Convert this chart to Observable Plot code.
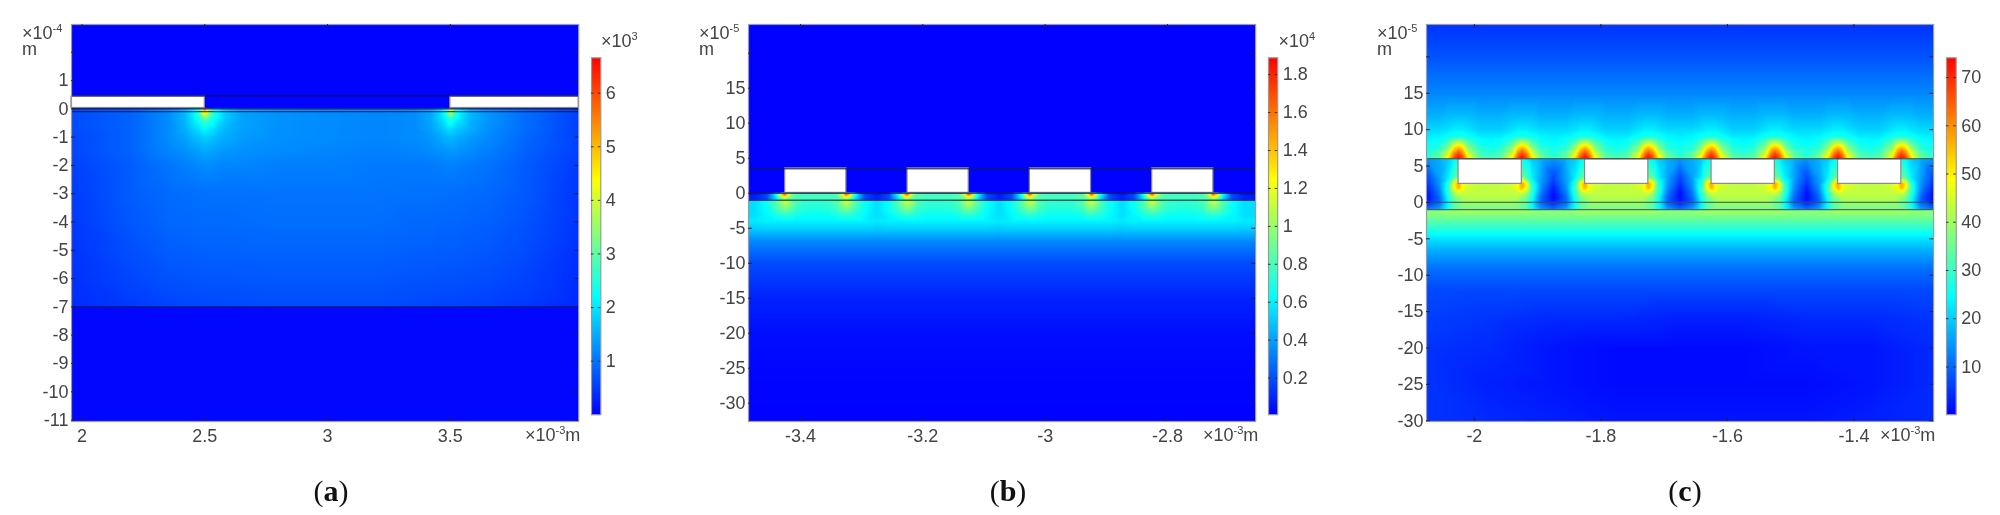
<!DOCTYPE html>
<html><head><meta charset="utf-8">
<script src="https://cdn.jsdelivr.net/npm/d3@7"></script>
<script src="https://cdn.jsdelivr.net/npm/@observablehq/plot@0.6"></script>
<style>
html,body{margin:0;padding:0;background:#fff}
#fig{position:relative;width:2000px;height:515px;overflow:hidden;filter:blur(.45px);color:#444;font-family:"Liberation Sans Narrow","Liberation Sans",sans-serif;font-size:18px}
#fig svg{position:absolute;top:0;overflow:visible}
.lab{position:absolute;white-space:nowrap;line-height:18px;transform:translateY(-50%)}
.lab sup{font-size:11px;line-height:0;vertical-align:7px}
.cap{position:absolute;top:471px;font:30px/40px "Liberation Serif",serif;color:#111;transform:translateX(-50%)}
.cap b{font-weight:700}
</style></head><body><div id="fig"></div>
<script>
// shared rainbow scale (position along the bar → colour)
const rampStops = [0, 0.33, 0.5, 0.66, 1];
const rampColors = ["#0000ff", "#00ffff", "#80ff80", "#ffff00", "#ff0000"];

// ---------- panel (a): norm ×10^3 ----------
const aXDomain = [1.957, 4.023], aYDomain = [-11.05, 2.98], aBarDomain = [0, 6.66];
const aXTicks = [2, 2.5, 3, 3.5], aYLabels = [1, 0, -1, -2, -3, -4, -5, -6, -7, -8, -9, -10, -11], aYMarks = [2, ...aYLabels];
const aBarTicks = [1, 2, 3, 4, 5, 6];
const aGridX = [1.957, 2.2, 2.35, 2.42, 2.46, 2.48, 2.5, 2.52, 2.54, 2.58, 2.65, 2.8, 3, 3.2, 3.35, 3.42, 3.46, 3.48, 3.5, 3.52, 3.54, 3.58, 3.65, 3.8, 4.023];
const aGridY = [2.98, 0.02, 0.01, -0.12, -0.25, -0.4, -0.7, -1, -1.5, -2, -3, -4, -5, -6, -6.97, -7.03, -11.05];
const aGrid = [
  [.03,.03,.03,.03,.03,.03,.03,.03,.03,.03,.03,.03,.03,.03,.03,.03,.03,.03,.03,.03,.03,.03,.03,.03,.03],
  [.03,.03,.03,.03,.03,.03,.03,.03,.03,.03,.03,.03,.03,.03,.03,.03,.03,.03,.03,.03,.03,.03,.03,.03,.03],
  [.65,.85,1.2,1.6,2.2,3.0,5.6,3.4,2.4,1.8,1.4,1.25,1.2,1.15,1.2,1.45,1.9,2.6,4.4,2.8,2.1,1.6,1.3,.95,.55],
  [.65,.85,1.2,1.6,2.2,2.9,4.9,3.2,2.4,1.8,1.4,1.25,1.2,1.15,1.2,1.45,1.9,2.4,3.8,2.6,2.1,1.6,1.3,.95,.55],
  [.65,.85,1.2,1.6,2.2,2.7,3.8,2.9,2.35,1.8,1.4,1.25,1.2,1.15,1.2,1.45,1.9,2.3,3.1,2.4,2.05,1.6,1.3,.95,.55],
  [.65,.85,1.2,1.6,2.1,2.4,2.9,2.5,2.2,1.75,1.4,1.25,1.2,1.15,1.2,1.45,1.85,2.1,2.5,2.15,1.95,1.55,1.3,.95,.55],
  [.65,.85,1.2,1.5,1.85,2.0,2.2,2.05,1.9,1.6,1.4,1.25,1.2,1.15,1.2,1.4,1.65,1.8,1.95,1.8,1.7,1.5,1.25,.95,.55],
  [.6,.85,1.2,1.4,1.6,1.7,1.8,1.72,1.65,1.5,1.35,1.25,1.2,1.15,1.2,1.3,1.45,1.55,1.6,1.55,1.45,1.35,1.2,.9,.55],
  [.6,.85,1.15,1.25,1.35,1.4,1.45,1.42,1.4,1.3,1.25,1.2,1.15,1.1,1.15,1.2,1.25,1.3,1.3,1.3,1.25,1.2,1.1,.85,.55],
  [.55,.8,1.0,1.1,1.15,1.18,1.2,1.2,1.18,1.15,1.15,1.1,1.1,1.05,1.05,1.05,1.08,1.1,1.1,1.1,1.08,1.05,1.0,.8,.5],
  [.5,.8,.92,.95,.97,.97,.98,.98,.98,.98,.98,1,1,1,.98,.98,.97,.97,.95,.95,.95,.93,.9,.78,.45],
  [.48,.75,.88,.9,.91,.92,.92,.92,.92,.92,.93,.95,.95,.95,.9,.9,.88,.88,.88,.88,.87,.85,.83,.72,.45],
  [.45,.68,.8,.82,.83,.83,.84,.84,.84,.84,.85,.86,.86,.86,.82,.82,.8,.8,.8,.8,.79,.78,.75,.66,.42],
  [.42,.6,.7,.72,.73,.73,.74,.74,.74,.74,.75,.76,.76,.76,.72,.72,.7,.7,.7,.7,.69,.68,.66,.58,.38],
  [.38,.5,.58,.6,.61,.61,.62,.62,.62,.62,.63,.65,.65,.65,.62,.6,.58,.58,.58,.58,.57,.56,.54,.48,.35],
  [.05,.05,.05,.05,.05,.05,.05,.05,.05,.05,.05,.05,.05,.05,.05,.05,.05,.05,.05,.05,.05,.05,.05,.05,.05],
  [.05,.05,.05,.05,.05,.05,.05,.05,.05,.05,.05,.05,.05,.05,.05,.05,.05,.05,.05,.05,.05,.05,.05,.05,.05]
];
const aBlockX1 = [1.957, 3.5], aBlockX2 = [2.5, 4.023], aBlockY1 = [0.03, 0.03], aBlockY2 = [0.43, 0.43];
const aLines = [0.46, 0, -0.1, -7];

// ---------- panel (b): norm ×10^4 ----------
const bXDomain = [-3.485, -2.656], bYDomain = [-32.6, 24.1], bBarDomain = [0.007, 1.889];
const bXTicks = [-3.4, -3.2, -3, -2.8], bYLabels = [15, 10, 5, 0, -5, -10, -15, -20, -25, -30], bYMarks = [20, ...bYLabels];
const bBarTicks = [0.2, 0.4, 0.6, 0.8, 1, 1.2, 1.4, 1.6, 1.8];
const bCenters = [-3.375, -3.175, -2.975, -2.775];
const bCellU = [0, .02, .035, .044, .05, .056, .065, .08, .1];
const bCellY = [24.1, 0.06, 0, -0.5, -0.95, -1.02, -2, -3, -4, -5, -7, -10, -15, -20, -25, -32.6];
const bCell = [
  [.01,.01,.01,.01,.01,.01,.01,.01,.01],
  [.01,.01,.01,.01,.01,.01,.01,.01,.01],
  [.8,.8,.85,1.3,1.85,1.5,.7,.15,.03],
  [.8,.8,.85,1.0,1.3,1.1,.6,.2,.08],
  [.78,.78,.8,.85,.9,.8,.5,.15,.06],
  [.75,.76,.85,1.05,1.15,1.05,.85,.65,.55],
  [.72,.73,.8,.92,.98,.92,.8,.65,.55],
  [.66,.66,.7,.74,.76,.74,.7,.62,.55],
  [.6,.6,.6,.6,.6,.6,.6,.6,.58],
  [.52,.52,.52,.52,.52,.52,.52,.52,.51],
  [.33,.33,.33,.33,.33,.33,.33,.33,.33],
  [.19,.19,.19,.19,.19,.19,.19,.19,.19],
  [.09,.09,.09,.09,.09,.09,.09,.09,.09],
  [.04,.04,.04,.04,.04,.04,.04,.04,.04],
  [.02,.02,.02,.02,.02,.02,.02,.02,.02],
  [.01,.01,.01,.01,.01,.01,.01,.01,.01]
];
const bStripY1 = [0.05], bStripY2 = [3.55];
const bLines = [3.5, 0, -1];

// ---------- panel (c) ----------
const cXDomain = [-2.0757, -1.274], cYDomain = [-30.1, 24.45], cBarDomain = [0.1, 74.1];
const cXTicks = [-2, -1.8, -1.6, -1.4], cYLabels = [15, 10, 5, 0, -5, -10, -15, -20, -25, -30], cYMarks = [20, ...cYLabels];
const cBarTicks = [10, 20, 30, 40, 50, 60, 70];
const cCenters = [-1.975, -1.775, -1.575, -1.375];
const cCellU = [0, .016, .035, .044, .05, .057, .066, .08, .1];
const cCellY = [24.45, 20, 15, 12, 10, 9, 8.5, 8, 7.5, 7, 6.5, 6.08, 5.92, 3.5, 2.6, 2, 1.3, 0.6, 0.05, -0.95, -1.05, -2, -3, -4.5, -6.5, -9, -12];
const cCell = [
  [5,5,5,5,5,5,5,5,5],
  [8,8,8,8,8,8,8,8,8],
  [13,13,13,13,13,13,13,13,13],
  [17,17,18,18,18,18,18,17,17],
  [20,20,22,23,23,23,22,21,21],
  [23,23,26,27,27,27,26,24,23],
  [24,25,30,36,38,36,30,25,24],
  [25,26,34,44,48,44,34,27,25],
  [26,28,38,52,56,52,38,28,26],
  [28,30,42,58,64,58,44,32,27],
  [30,32,47,64,70,64,48,34,28],
  [32,34,50,68,74,68,52,35,29],
  [28,28,28,30,26,24,20,17,14],
  [34,34,34,34,34,32,23,16,7],
  [43,43,45,48,58,50,28,15,5],
  [43,43,45,49,57,48,30,14,3],
  [43,43,43,44,45,40,29,12,1.5],
  [42,42,42,41,38,36,26,10,1],
  [40,40,40,39,36,34,24,10,3],
  [36,36,36,36,34,33,26,16,11],
  [41,41,41,41,41,41,40,39,39],
  [36,36,36,36,36,36,36,36,36],
  [31,31,31,31,31,31,31,31,31],
  [24,24,24,24,24,24,24,24,24],
  [17,17,17,17,17,17,17,17,17],
  [11,11,11,11,11,11,11,11,11],
  [7,7,7,7,7,7,7,7,7]
];
const cFarX = [-2.0757, -1.975, -1.875, -1.775, -1.675, -1.575, -1.475, -1.375, -1.274];
const cFarY = [-16, -20, -25, -30.1];
const cFar = [
  [6,5,4,4,3,3,4,4,5],
  [5,4,2,1,1,1,2,2,4],
  [5,3,2,1,1,1,1,2,4],
  [5,4,3,2,2,2,2,3,4]
];
const cStripY1 = [2.55], cStripY2 = [5.95];
const cLines = [6, 0, -1];

const stripHalf = 0.05;

// ---------- helpers that unfold the tables into {x,y,v} records ----------
function gridPoints(xs, ys, rows) {
  return ys.flatMap((y, j) => xs.map((x, i) => ({x, y, v: rows[j][i]})));
}
function cellPoints(centers, us, ys, rows, xDomain) {
  const out = [];
  ys.forEach((y, j) => {
    centers.forEach(c => us.forEach((u, i) => {
      out.push({x: c + u, y, v: rows[j][i]});
      if (u) out.push({x: c - u, y, v: rows[j][i]});
    }));
    const gap = rows[j][us.length - 1];
    out.push({x: xDomain[0], y, v: gap}, {x: xDomain[1], y, v: gap});
  });
  return out;
}
const stripRects = (centers, y1, y2) => centers.map(c => ({x1: c - stripHalf, x2: c + stripHalf, y1: y1[0], y2: y2[0]}));

const FW = 397; // frame height, px
const fontStyle = {background: "transparent", overflow: "visible", fontFamily: '"Liberation Sans Narrow","Liberation Sans",sans-serif', fontSize: "18px", color: "#444"};
const fig = document.getElementById("fig");

function field(o) {
  const w = o.frame[1] - o.frame[0], mL = 70;
  const fmt = d => String(d);
  const tickInk = "#223";
  const plot = Plot.plot({
    width: w + mL, height: 24 + FW + 40,
    marginLeft: mL, marginRight: 0, marginTop: 24, marginBottom: 40,
    style: fontStyle,
    x: {domain: o.xDomain}, y: {domain: o.yDomain},
    color: {type: "linear", domain: rampStops.map(t => o.barDomain[0] + t * (o.barDomain[1] - o.barDomain[0])), range: rampColors, clamp: true},
    marks: [
      Plot.raster(o.points, {x: "x", y: "y", fill: "v", interpolate: "barycentric", pixelSize: 1}),
      Plot.rect(o.rects, {x1: "x1", x2: "x2", y1: "y1", y2: "y2", fill: "#fff", stroke: "#8a8a8a", strokeWidth: 1.2}),
      Plot.ruleY(o.lines, {stroke: o.lineInk, strokeOpacity: o.lineOpacity, strokeWidth: 1.3}),
      Plot.frame({stroke: "#9a9aa6", strokeWidth: 1.2}),
      Plot.ruleX(o.xTicks, {insetTop: FW - 4, stroke: tickInk}),
      Plot.ruleX(o.xTicks, {insetBottom: FW - 4, stroke: tickInk}),
      Plot.ruleY(o.yMarks, {insetRight: w - 4, stroke: tickInk}),
      Plot.ruleY(o.yMarks, {insetLeft: w - 4, stroke: tickInk}),
      Plot.axisX({ticks: o.xTicks, tickSize: 0, tickPadding: 8, tickFormat: fmt, fontSize: 18, label: null}),
      Plot.axisY({ticks: o.yLabels, tickSize: 0, tickPadding: 3, tickFormat: fmt, fontSize: 18, label: null})
    ]
  });
  plot.style.left = (o.frame[0] - mL) + "px";
  fig.appendChild(plot);
}

function colorbar(o) {
  const bw = o.bar[1] - o.bar[0];
  const plot = Plot.plot({
    width: bw + 40, height: 414.3 + 10,
    marginLeft: 0, marginRight: 40, marginTop: 57.3, marginBottom: 10,
    style: fontStyle,
    x: {domain: [0, 1], axis: null}, y: {domain: o.barDomain},
    color: {type: "linear", domain: rampStops.map(t => o.barDomain[0] + t * (o.barDomain[1] - o.barDomain[0])), range: rampColors},
    marks: [
      Plot.raster({fill: (x, y) => y, x1: 0, x2: 1, y1: o.barDomain[0], y2: o.barDomain[1], width: 1, height: 357}),
      Plot.frame({stroke: "#9a9a9a", strokeWidth: 1.2}),
      Plot.ruleY(o.barTicks, {insetRight: bw - 2.5, stroke: "#333"}),
      Plot.ruleY(o.barTicks, {insetLeft: bw - 2.5, stroke: "#333"}),
      Plot.axisY({anchor: "right", ticks: o.barTicks, tickSize: 0, tickPadding: 5, tickFormat: d => String(d), fontSize: 18, label: null})
    ]
  });
  plot.style.left = o.bar[0] + "px";
  fig.appendChild(plot);
}

function label(html, x, y) {
  const el = document.createElement("div");
  el.className = "lab"; el.innerHTML = html;
  el.style.left = x + "px"; el.style.top = y + "px";
  fig.appendChild(el);
}
function caption(letter, x) {
  const el = document.createElement("div");
  el.className = "cap"; el.innerHTML = "(<b>" + letter + "</b>)";
  el.style.left = x + "px";
  fig.appendChild(el);
}

field({frame: [70.7, 577.9], xDomain: aXDomain, yDomain: aYDomain, barDomain: aBarDomain,
  xTicks: aXTicks, yLabels: aYLabels, yMarks: aYMarks, lines: aLines, lineInk: "#101040", lineOpacity: .75,
  points: gridPoints(aGridX, aGridY, aGrid),
  rects: aBlockX1.map((x1, i) => ({x1, x2: aBlockX2[i], y1: aBlockY1[i], y2: aBlockY2[i]}))});
field({frame: [748.2, 1255.3], xDomain: bXDomain, yDomain: bYDomain, barDomain: bBarDomain,
  xTicks: bXTicks, yLabels: bYLabels, yMarks: bYMarks, lines: bLines, lineInk: "#102040", lineOpacity: .7,
  points: cellPoints(bCenters, bCellU, bCellY, bCell, bXDomain),
  rects: stripRects(bCenters, bStripY1, bStripY2)});
field({frame: [1425.9, 1933], xDomain: cXDomain, yDomain: cYDomain, barDomain: cBarDomain,
  xTicks: cXTicks, yLabels: cYLabels, yMarks: cYMarks, lines: cLines, lineInk: "#404a50", lineOpacity: .8,
  points: [...cellPoints(cCenters, cCellU, cCellY, cCell, cXDomain), ...gridPoints(cFarX, cFarY, cFar)],
  rects: stripRects(cCenters, cStripY1, cStripY2)});

colorbar({bar: [591.3, 600.6], barDomain: aBarDomain, barTicks: aBarTicks});
colorbar({bar: [1268.4, 1277.6], barDomain: bBarDomain, barTicks: bBarTicks});
colorbar({bar: [1946, 1955.7], barDomain: cBarDomain, barTicks: cBarTicks});

label("×10<sup>-4</sup>", 22, 33);  label("m", 22, 49);
label("×10<sup>-5</sup>", 699, 33); label("m", 699, 49);
label("×10<sup>-5</sup>", 1377, 33); label("m", 1377, 49);
label("×10<sup>-3</sup>m", 525, 435);
label("×10<sup>-3</sup>m", 1203, 435);
label("×10<sup>-3</sup>m", 1880, 435);
label("×10<sup>3</sup>", 601, 41);
label("×10<sup>4</sup>", 1278.5, 41);
caption("a", 331); caption("b", 1008); caption("c", 1685);
</script></body></html>
